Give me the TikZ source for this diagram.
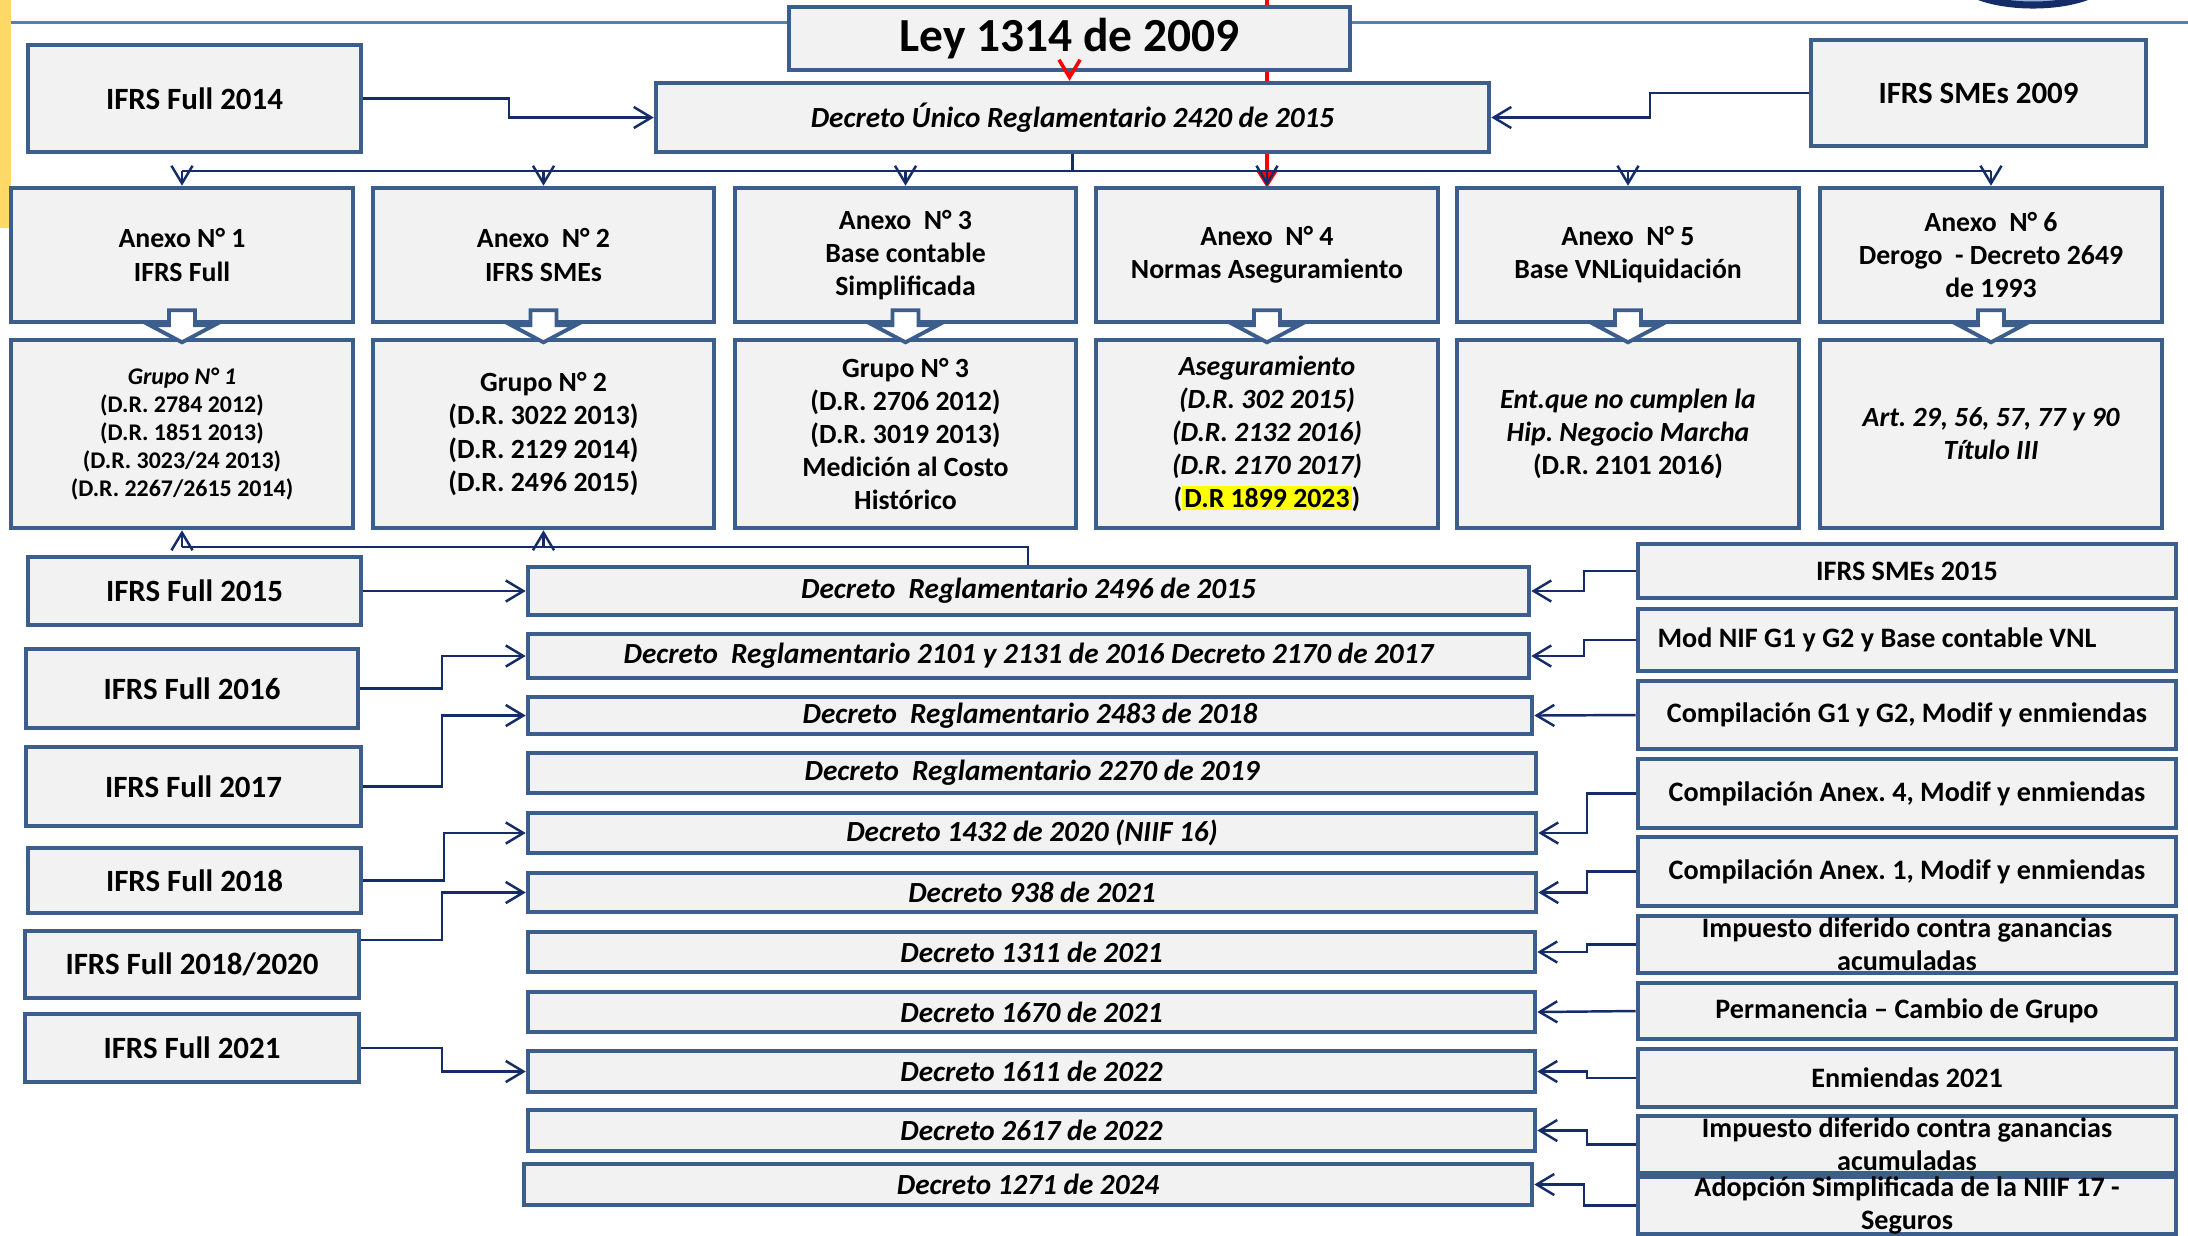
\documentclass[tikz,border=0pt]{standalone}
\usepackage{fontspec}
\setmainfont{Carlito}
\frenchspacing
\usetikzlibrary{arrows.meta}
\definecolor{bord}{RGB}{59,94,140}
\definecolor{boxfill}{RGB}{242,242,242}
\definecolor{navy}{RGB}{20,45,105}
\definecolor{topblue}{RGB}{79,129,189}
\definecolor{gold}{RGB}{255,217,102}
\definecolor{hl}{RGB}{255,255,0}
\begin{document}
\begin{tikzpicture}[x=0.01cm,y=-0.01cm,
 bx/.style={draw=bord, fill=boxfill, line width=1.3pt, inner sep=0pt, align=center},
 wh/.style 2 args={minimum width=#1*0.01cm, minimum height=#2*0.01cm},
 conn/.style={draw=navy, line width=0.7pt},
 arr/.style={conn, -{Straight Barb[length=5pt,width=6pt]}},
 blockarrow/.style={draw=bord, fill=white, line width=1.1pt, line join=miter},
 fLey/.style={font=\fontsize{13.5}{16}\selectfont\bfseries},
 fL/.style={font=\fontsize{8.8}{10.5}\selectfont\bfseries},
 fA/.style={font=\fontsize{7.9}{9.4}\selectfont\bfseries},
 fAi/.style={font=\fontsize{7.9}{9.4}\selectfont\bfseries\itshape},
 fG/.style={font=\fontsize{6.8}{8}\selectfont\bfseries},
 fD/.style={font=\fontsize{8.3}{10}\selectfont\bfseries\itshape},
 fR/.style={font=\fontsize{8}{9.4}\selectfont\bfseries}
]
\useasboundingbox (0,0) rectangle (2188,1235);
\clip (0,0) rectangle (2188,1235);
\fill[white] (0,0) rectangle (2188,1235);
% background decorations
\fill[gold] (0,0) rectangle (10.5,228);
\draw[topblue, line width=1pt] (10.5,22.7) -- (2188,22.7);
\draw[navy, line width=2pt, fill=topblue!60] (2033,-25) ellipse [x radius=78, y radius=30];
\coordinate (redtop) at (1267,0);
\draw[red, line width=1.1pt, -{Triangle[length=5pt,width=6pt]}] (redtop) -- (1267,188);

% top boxes
\node[bx, fLey, wh={561}{63}] (Ley) at (1069.5,38.5) {Ley 1314 de 2009};
\node[bx, fD, wh={833}{69}] (DU) at (1072.5,117.5) {Decreto Único Reglamentario 2420 de 2015};
\node[bx, fL, wh={333}{107}] (F2014) at (194.5,98.5) {IFRS Full 2014};
\node[bx, fL, wh={335}{106}] (S2009) at (1978.5,93) {IFRS SMEs 2009};

% Anexo row
\node[bx, fA, wh={342}{134}] (A1) at (182,255) {Anexo N° 1\\IFRS Full};
\node[bx, fA, wh={341}{134}] (A2) at (543.5,255) {Anexo~ N° 2\\IFRS SMEs};
\node[bx, fA, wh={341}{134}] (A3) at (905.5,255) {Anexo~ N° 3\\Base contable\\Simplificada};
\node[bx, fA, wh={342}{134}] (A4) at (1267,255) {Anexo~ N° 4\\Normas Aseguramiento};
\node[bx, fA, wh={342}{134}] (A5) at (1628,255) {Anexo~ N° 5\\Base VNLiquidación};
\node[bx, fA, wh={342}{134}] (A6) at (1991,255) {Anexo~ N° 6\\Derogo~ - Decreto 2649\\de 1993};

% Grupo row
\node[bx, fG, wh={342}{188}] (G1) at (182,434) {\textit{Grupo N° 1}\\(D.R. 2784 2012)\\(D.R. 1851 2013)\\(D.R. 3023/24 2013)\\(D.R. 2267/2615 2014)};
\node[bx, fA, wh={341}{188}] (G2) at (543.5,434) {Grupo N° 2\\(D.R. 3022 2013)\\(D.R. 2129 2014)\\(D.R. 2496 2015)};
\node[bx, fA, wh={341}{188}] (G3) at (905.5,434) {Grupo N° 3\\(D.R. 2706 2012)\\(D.R. 3019 2013)\\Medición al Costo\\Histórico};
\node[bx, fAi, wh={342}{188}] (G4) at (1267,434) {Aseguramiento\\(D.R. 302 2015)\\(D.R. 2132 2016)\\(D.R. 2170 2017)\\\textup{(\setlength{\fboxsep}{0.6pt}\colorbox{hl}{D.R 1899 2023})}};
\node[bx, fA, wh={342}{188}] (G5) at (1628,434) {\textit{Ent.que no cumplen la}\\\textit{Hip. Negocio Marcha}\\(D.R. 2101 2016)};
\node[bx, fAi, wh={342}{188}] (G6) at (1991,434) {Art. 29, 56, 57, 77 y 90\\Título III};

% left column
\node[bx, fL, wh={333}{68}] (F15) at (194.5,591) {IFRS Full 2015};
\node[bx, fL, wh={332}{79}] (F16) at (192,688.5) {IFRS Full 2016};
\node[bx, fL, wh={335}{79}] (F17) at (193.5,786.5) {IFRS Full 2017};
\node[bx, fL, wh={333}{65}] (F18) at (194.5,880.5) {IFRS Full 2018};
\node[bx, fL, wh={334}{67}] (F1820) at (192,964.5) {IFRS Full 2018/2020};
\node[bx, fL, wh={334}{68}] (F21) at (192,1048) {IFRS Full 2021};

% middle decrees
\node[bx, fD, wh={1001}{48}] (D2496) at (1028.5,591) {Decreto~ Reglamentario 2496 de 2015};
\node[bx, fD, wh={1001}{44}] (D2101) at (1028.5,656) {Decreto~ Reglamentario 2101 y 2131 de 2016 Decreto 2170 de 2017};
\node[bx, fD, wh={1004}{37}] (D2483) at (1030,715.5) {Decreto~ Reglamentario 2483 de 2018};
\node[bx, fD, wh={1008}{40}] (D2270) at (1032,773) {Decreto~ Reglamentario 2270 de 2019};
\node[bx, fD, wh={1008}{40}] (D1432) at (1032,833) {Decreto 1432 de 2020 (NIIF 16)};
\node[bx, fD, wh={1008}{39}] (D938) at (1032,892.5) {Decreto 938 de 2021};
\node[bx, fD, wh={1007}{40}] (D1311) at (1031.5,952) {Decreto 1311 de 2021};
\node[bx, fD, wh={1007}{40}] (D1670) at (1031.5,1012) {Decreto 1670 de 2021};
\node[bx, fD, wh={1007}{41}] (D1611) at (1031.5,1071.5) {Decreto 1611 de 2022};
\node[bx, fD, wh={1007}{41}] (D2617) at (1031.5,1130.5) {Decreto 2617 de 2022};
\node[bx, fD, wh={1008}{41}] (D1271) at (1028,1184.5) {Decreto 1271 de 2024};

% right column
\node[bx, fR, wh={538}{54}] (R1) at (1907,571) {IFRS SMEs 2015};
\node[bx, fR, wh={538}{62}] (R2) at (1907,640) {\kern-0.6cm Mod NIF G1 y G2 y Base contable VNL};
\node[bx, fR, wh={538}{68}] (R3) at (1907,715) {Compilación G1 y G2, Modif y enmiendas};
\node[bx, fR, wh={538}{69}] (R4) at (1907,793.5) {Compilación Anex. 4, Modif y enmiendas};
\node[bx, fR, wh={538}{69}] (R5) at (1907,871.5) {Compilación Anex. 1, Modif y enmiendas};
\node[bx, fR, wh={538}{57}] (R6) at (1907,944.5) {Impuesto diferido contra ganancias\\acumuladas};
\node[bx, fR, wh={538}{56}] (R7) at (1907,1011) {Permanencia – Cambio de Grupo};
\node[bx, fR, wh={538}{58}] (R8) at (1907,1078) {Enmiendas 2021};
\node[bx, fR, wh={538}{57}] (R9) at (1907,1144.5) {Impuesto diferido contra ganancias\\acumuladas};
\node[bx, fR, wh={538}{55}] (R10) at (1907,1205.5) {Adopción Simplificada de la NIIF 17 -\\Seguros};

% block arrows Anexo -> Grupo
\foreach \n in {1,...,6}{
  \draw[blockarrow, shift={(A\n.south)}] (-13,-14) -- (13,-14) -- (13,1) -- (32,1) -- (0,18) -- (-32,1) -- (-13,1) -- cycle;
}

% top connectors
\draw[red, line width=1pt, -{Straight Barb[length=5pt,width=6pt]}] (Ley.south) -- (Ley.south |- DU.north);
\draw[arr] (F2014.east) -- (F2014.east -| 509,0) |- (DU.west);
\draw[arr] (S2009.west) -- (S2009.west -| 1650,0) |- (DU.east);
\coordinate (bus) at (0,171);
\draw[conn] (DU.south) -- (DU.south |- bus);
\draw[conn] (A1.north |- bus) -- (A6.north |- bus);
\foreach \n in {1,2,3,4,5,6}{
  \draw[arr] (A\n.north |- bus) -- (A\n.north);
}

% up connector from D2496 to Grupo 1 and 2
\coordinate (j) at (1028,547);
\draw[conn] (D2496.north -| j) -- (j) -- (G1.south |- j);
\draw[arr] (G2.south |- j) -- (G2.south);
\draw[arr] (G1.south |- j) -- (G1.south);

% left connectors
\coordinate (xl) at (442,0);
\draw[arr] (F15.east) -- (D2496.west);
\draw[arr] (F16.east) -- (F16.east -| xl) |- (D2101.west);
\draw[arr] (F17.east) -- (F17.east -| xl) |- (D2483.west);
\draw[arr] (F18.east) -- (F18.east -| 444,0) |- (D1432.west);
\draw[arr] (F1820.east |- 0,940) -- (xl |- 0,940) |- (D938.west);
\draw[arr] (F21.east) -- (F21.east -| xl) |- (D1611.west);

% right connectors
\coordinate (xr) at (1587,0);
\coordinate (xr1) at (1584,0);
\draw[arr] (R1.west) -- (R1.west -| xr1) |- (D2496.east);
\draw[arr] (R2.west) -- (R2.west -| xr1) |- (D2101.east);
\draw[arr] (R3.west) -- (D2483.east);
\draw[arr] (R4.west) -- (R4.west -| xr) |- (D1432.east);
\draw[arr] (R5.west) -- (R5.west -| xr) |- (D938.east);
\draw[arr] (R6.west) -- (R6.west -| xr) |- (D1311.east);
\draw[arr] (R7.west) -- (D1670.east);
\draw[arr] (R8.west) -- (R8.west -| xr) |- (D1611.east);
\draw[arr] (R9.west) -- (R9.west -| xr) |- (D2617.east);
\draw[arr] (R10.west) -- (R10.west -| xr1) |- (D1271.east);
\end{tikzpicture}
\end{document}
